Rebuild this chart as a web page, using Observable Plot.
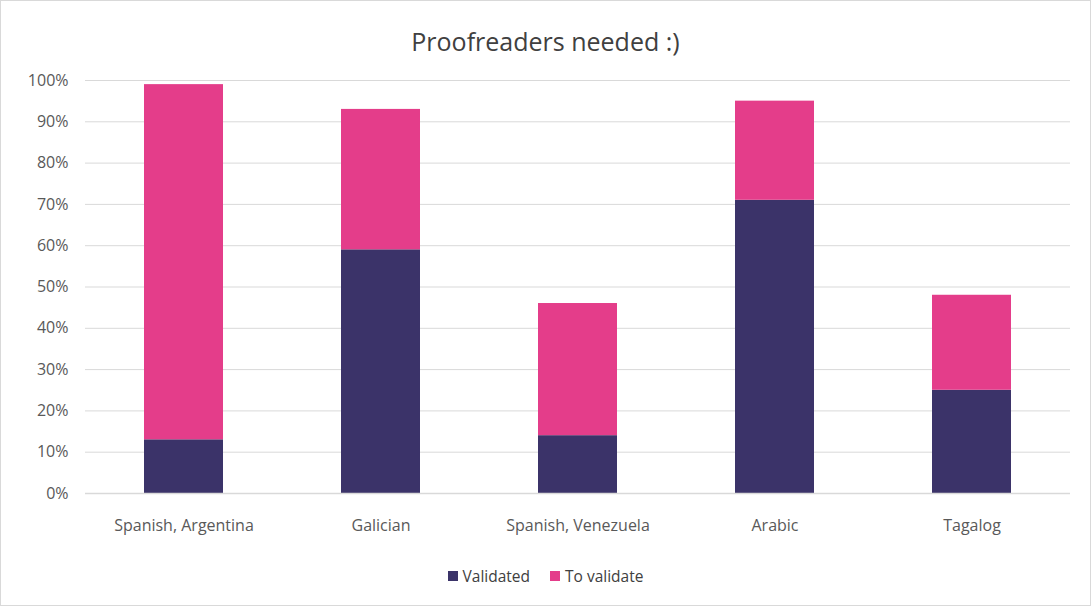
<!DOCTYPE html>
<html>
<head>
<meta charset="utf-8">
<script src="https://cdn.jsdelivr.net/npm/d3@7"></script>
<script src="https://cdn.jsdelivr.net/npm/@observablehq/plot@0.6"></script>
<style>
  html, body { margin: 0; padding: 0; background: #fff; }
  #frame { position: relative; width: 1089px; height: 604px; border: 1px solid #d9d9d9; overflow: hidden; font-family: "Open Sans", Lato, sans-serif; }
  #title { height: 69px; line-height: 80px; text-align: center; font-size: 25px; color: #404040; }
  #chart svg { display: block; }
  #legend { display: flex; justify-content: center; gap: 20px; font-size: 15.5px; color: #404040; margin-top: 15px; margin-left: 0px; }
  .item { display: flex; align-items: center; }
  .sw { width: 10px; height: 10px; margin-right: 5px; }
</style>
</head>
<body>
<div id="frame">
  <div id="title">Proofreaders needed :)</div>
  <div id="chart"></div>
  <div id="legend"></div>
</div>
<script>
const categories = ["Spanish, Argentina", "Galician", "Spanish, Venezuela", "Arabic", "Tagalog"];
const seriesNames = ["Validated", "To validate"];
const validated = [13, 59, 14, 71, 25];
const toValidate = [86, 34, 32, 24, 23];
const colors = ["#3b3369", "#e43d8a"];
const yTicks = [0, 10, 20, 30, 40, 50, 60, 70, 80, 90, 100];

const rows = [];
categories.forEach((c, i) => {
  rows.push({lang: c, series: seriesNames[0], value: validated[i]});
  rows.push({lang: c, series: seriesNames[1], value: toValidate[i]});
});

const plot = Plot.plot({
  width: 1089,
  height: 480,
  marginTop: 10,
  marginBottom: 57,
  marginLeft: 84,
  marginRight: 20,
  style: {fontFamily: "'Open Sans', Lato, sans-serif", fontSize: "16px", color: "#595959", background: "#fff"},
  x: {domain: categories, paddingInner: 0.6, paddingOuter: 0.3, label: null, tickSize: 0, tickPadding: 26},
  y: {domain: [0, 100], ticks: yTicks, tickFormat: d => d + "%", label: null, tickSize: 0, tickPadding: 17},
  color: {domain: seriesNames, range: colors},
  marks: [
    Plot.gridY(yTicks, {stroke: "#d9d9d9", strokeOpacity: 1, strokeWidth: 1}),
    Plot.barY(rows, {x: "lang", y: "value", fill: "series", order: seriesNames, inset: 0}),
    Plot.ruleY([0], {stroke: "#d9d9d9", strokeWidth: 1.5})
  ]
});
document.getElementById("chart").appendChild(plot);

const legend = document.getElementById("legend");
seriesNames.forEach((s, i) => {
  const it = document.createElement("div");
  it.className = "item";
  const sw = document.createElement("div");
  sw.className = "sw";
  sw.style.background = colors[i];
  it.appendChild(sw);
  const t = document.createElement("span");
  t.textContent = s;
  it.appendChild(t);
  legend.appendChild(it);
});
</script>
</body>
</html>
